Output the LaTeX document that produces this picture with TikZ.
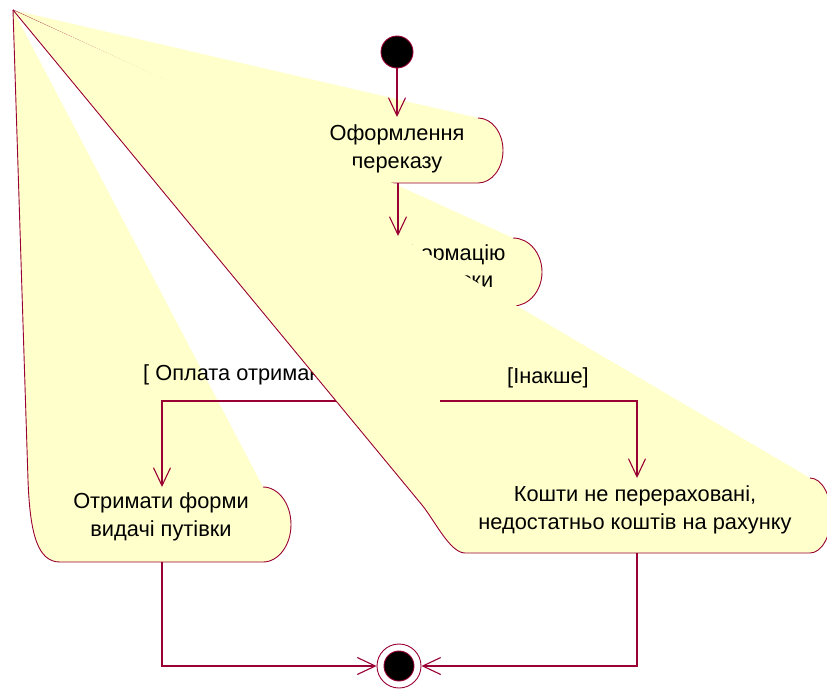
\documentclass[tikz,border=0pt]{standalone}
\usepackage{fontspec}
\setmainfont{Liberation Sans}
\usetikzlibrary{arrows.meta}
\definecolor{rosered}{RGB}{153,0,51}
\definecolor{actfill}{RGB}{255,255,204}
\begin{document}
\begin{tikzpicture}[x=1pt,y=-1pt,
  actbody/.style={fill=actfill,draw=none},
  actline/.style={draw=rosered,line width=0.9pt,line join=round},
  acttext/.style={align=center,inner sep=0pt,font=\fontsize{21.8}{27.5}\selectfont},
  guard/.style={anchor=west,inner sep=0pt,font=\fontsize{21.8}{26}\selectfont},
  flow/.style={draw=rosered,line width=1.3pt,-{Straight Barb[length=18pt,width=17pt,line width=1.1pt]}},
  link/.style={draw=rosered,line width=1.3pt}]
\useasboundingbox[fill=white] (0,0) rectangle (827,688);

% common corner of the activity outlines
\coordinate (ap) at (13,10);

% connection points of the activities
\coordinate (a1in) at (397,117);
\coordinate (a1out) at (398,183);
\coordinate (a2in) at (398,236);
\coordinate (a3in) at (162,487);
\coordinate (a3out) at (162,562);
\coordinate (a4in) at (637,478);
\coordinate (a4out) at (637,553);
\coordinate (decL) at (390,401);
\coordinate (decR) at (440,401);

% activity: Оформлення переказу
\path[actbody] (ap) -- (478,118)
  arc[start angle=90,end angle=-90,x radius=25pt,y radius=32.5pt]
  -- (325,183) arc[start angle=270,end angle=180,x radius=25pt,y radius=40pt] -- cycle;
\path[actline] (478,118)
  arc[start angle=90,end angle=-90,x radius=25pt,y radius=32.5pt]
  -- (325,183) arc[start angle=270,end angle=180,x radius=25pt,y radius=40pt] -- (ap);
\node[acttext] (t1) at (397,149) {Оформлення\\переказу};

% activity: Інформацію
\path[actbody] (ap) -- (513,238)
  arc[start angle=90,end angle=-90,x radius=29pt,y radius=34pt]
  -- (371,306) arc[start angle=270,end angle=180,x radius=29pt,y radius=34pt] -- cycle;
\path[actline] (513,238)
  arc[start angle=90,end angle=-90,x radius=29pt,y radius=34pt]
  -- (371,306) arc[start angle=270,end angle=180,x radius=29pt,y radius=34pt] -- (ap);
\node[acttext] (t2) at (445,266) {Інформацію\\з виписки};

% activity: Отримати форми видачі путівки
\path[actbody] (ap) -- (263,487)
  arc[start angle=90,end angle=-90,x radius=28pt,y radius=37.5pt]
  -- (60,562) .. controls (38,562) and (30,535) .. (28,480) -- cycle;
\path[actline] (263,487)
  arc[start angle=90,end angle=-90,x radius=28pt,y radius=37.5pt]
  -- (60,562) .. controls (38,562) and (30,535) .. (28,480) -- (ap);
\node[acttext] (t3) at (161,517) {Отримати форми\\видачі путівки};

% branch towards the left activity
\draw[flow] (decL) -| (a3in);
\node[guard] (g1) at (143,375) {[ Оплата отримана]};

% activity: Кошти не перераховані
\path[actbody] (ap) -- (810,478)
  arc[start angle=90,end angle=-90,x radius=21pt,y radius=37.5pt]
  -- (465,553) .. controls (450,553) and (434,519.5) .. (422,505) -- cycle;
\path[actline] (810,478)
  arc[start angle=90,end angle=-90,x radius=21pt,y radius=37.5pt]
  -- (465,553) .. controls (450,553) and (434,519.5) .. (422,505) -- (ap);
\node[acttext] (t4) at (635,510) {Кошти не перераховані,\\недостатньо коштів на рахунку};

% branch towards the right activity
\draw[flow] (decR) -| (a4in);
\node[guard] (g2) at (507,378) {[Інакше]};

% start and end states
\node[circle,fill=black,draw=rosered,line width=0.9pt,minimum size=32pt,inner sep=0pt] (init) at (397,52) {};
\node[circle,draw=rosered,line width=0.9pt,minimum size=44pt,inner sep=0pt] (fin) at (399,666) {};
\node[circle,fill=black,draw=rosered,line width=0.9pt,minimum size=30pt,inner sep=0pt] (finc) at (fin) {};

% transitions
\draw[flow] (init) -- (a1in);
\draw[flow] (a1out) -- (a2in);
\draw[flow] (a3out) |- (fin.west);
\draw[flow] (a4out) |- (fin.east);
\end{tikzpicture}
\end{document}
